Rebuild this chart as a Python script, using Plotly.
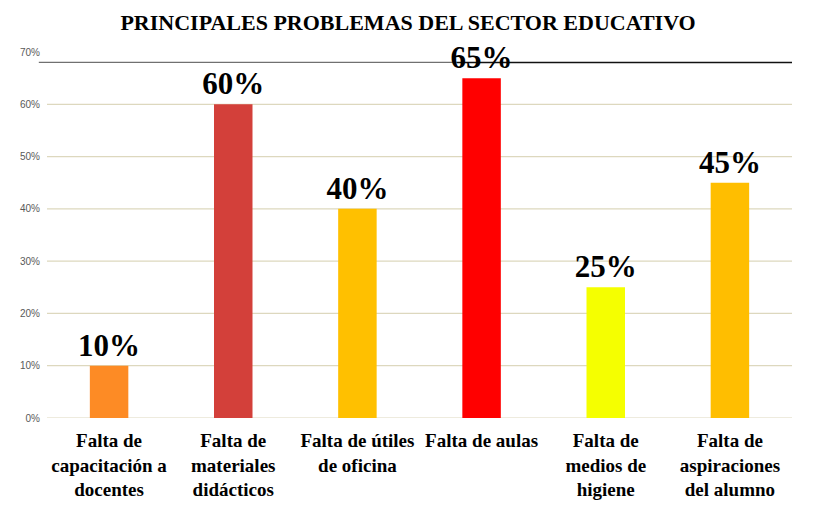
import plotly.graph_objects as go

# Data
categories = [
    "Falta de<br>capacitación a<br>docentes",
    "Falta de<br>materiales<br>didácticos",
    "Falta de útiles<br>de oficina",
    "Falta de aulas",
    "Falta de<br>medios de<br>higiene",
    "Falta de<br>aspiraciones<br>del alumno",
]
values = [0.10, 0.60, 0.40, 0.65, 0.25, 0.45]
bar_colors = ["#FD8B25", "#D3403A", "#FFC000", "#FF0000", "#F5FF00", "#FFBE00"]
tick_vals = [0, 0.1, 0.2, 0.3, 0.4, 0.5, 0.6, 0.7]
tick_text = ["0%", "10%", "20%", "30%", "40%", "50%", "60%", "70%"]

serif = "Liberation Serif, Times New Roman, serif"

fig = go.Figure()

fig.add_trace(go.Bar(
    x=categories,
    y=values,
    marker=dict(color=bar_colors, line=dict(width=0)),
    width=0.31,
    texttemplate="%{y:.0%}",
    textposition="outside",
    constraintext="none",
    textfont=dict(family=serif, size=31, color="black", weight="bold"),
    cliponaxis=False,
    showlegend=False,
))

# light beige gridlines (no line at 70%)
for v in tick_vals[:-1]:
    fig.add_shape(type="line", xref="paper", yref="y", x0=0, x1=1, y0=v, y1=v,
                  line=dict(color="#DDD8BE", width=1.2), layer="below")

# dark rule near the top of the chart
fig.add_shape(type="line", xref="paper", yref="y", x0=-0.011, x1=0.55, y0=0.68, y1=0.68,
              line=dict(color="#707070", width=1.2), layer="below")
fig.add_shape(type="line", xref="paper", yref="y", x0=0.55, x1=1.0, y0=0.68, y1=0.68,
              line=dict(color="#111111", width=1.6), layer="below")

# page body has an 8px margin, so the figure is sized to fill the rest of the window
fig.update_layout(
    width=805,
    height=504,
    paper_bgcolor="white",
    plot_bgcolor="white",
    margin=dict(l=36, r=21, t=44, b=94),
    title=dict(
        text="<b>PRINCIPALES PROBLEMAS DEL SECTOR EDUCATIVO</b>",
        font=dict(family=serif, size=22, color="black"),
        x=0.497, xanchor="center",
        y=0.972, yanchor="middle",
    ),
    bargap=0.69,
    xaxis=dict(
        showgrid=False,
        showline=False,
        ticks="",
        ticklabelstandoff=9,
        tickfont=dict(family=serif, size=19, color="black", weight="bold"),
        tickangle=0,
    ),
    yaxis=dict(
        range=[0, 0.7],
        tickvals=tick_vals,
        ticktext=tick_text,
        showgrid=False,
        zeroline=False,
        showline=False,
        ticks="",
        ticklabelstandoff=6,
        tickfont=dict(family="Liberation Sans, Arial, sans-serif", size=10, color="#595959"),
    ),
)

fig.write_html("out.html")
